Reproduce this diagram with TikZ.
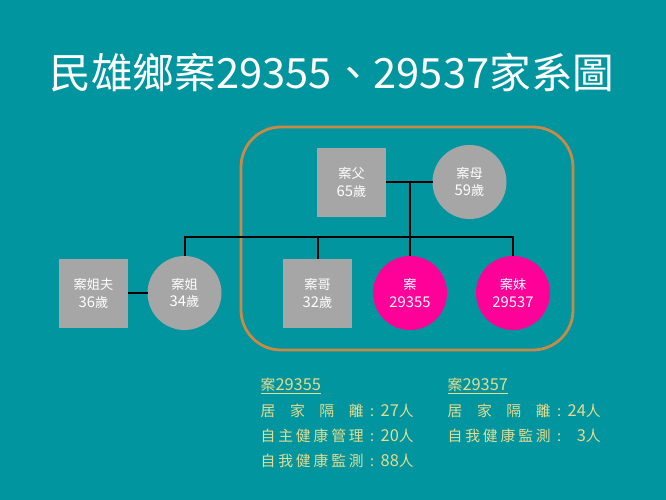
\documentclass[tikz,border=0pt]{standalone}
\usepackage{fontspec}
\setmainfont{Noto Sans CJK TC}
\definecolor{bgc}{HTML}{00959F}
\definecolor{greyc}{HTML}{A6A6A6}
\definecolor{pinkc}{HTML}{FF0099}
\definecolor{orangec}{HTML}{C98A45}
\definecolor{goldc}{HTML}{E6DC8E}
\newcommand{\spread}[1]{\makebox[103pt][s]{#1}}
\newcommand{\pnum}[1]{{\fontsize{14.8}{17.5}\selectfont #1}}
\newcommand{\inum}[1]{{\fontsize{16.4}{17}\selectfont #1}}
\newcommand{\infoval}[2]{#1\makebox[17pt][c]{:}\makebox[33pt][r]{\inum{#2}人}}
\tikzset{
  x=1pt,y=-1pt,
  person/.style={text=white,font=\fontsize{13.2}{17.5}\selectfont,align=center,inner sep=0pt,outer sep=0pt},
  male/.style={person,fill=greyc,minimum width=69pt,minimum height=69pt,shape=rectangle},
  female/.style={person,fill=greyc,minimum size=74pt,shape=circle},
  index/.style={person,fill=pinkc,minimum size=74pt,shape=circle},
  link/.style={draw=black,line width=2pt},
  info/.style={text=goldc,anchor=west,inner sep=0pt,font=\fontsize{14.8}{17}\selectfont},
}
\begin{document}
\begin{tikzpicture}
\path[use as bounding box,fill=bgc] (0,0) rectangle (666,500);
\node[text=white,inner sep=0pt,font=\fontsize{41.7}{44}\selectfont] (title) at (332,73) {民雄鄉案29355、29537家系圖};
\node[draw=orangec,line width=2.8pt,rounded corners=40pt,minimum width=332pt,minimum height=223pt,inner sep=0pt] (household) at (407,238.5) {};
\node[male] (father) at (351.5,182.5) {案父\\\pnum{65}歲};
\node[female] (mother) at (469.5,182) {案母\\\pnum{59}歲};
\node[male] (husband) at (93.5,293.5) {案姐夫\\\pnum{36}歲};
\node[female] (sister) at (184.5,293) {案姐\\\pnum{34}歲};
\node[male] (brother) at (317.5,293.5) {案哥\\\pnum{32}歲};
\node[index] (case) at (410,293) {案\\\pnum{29355}};
\node[index] (younger) at (513,293) {案妹\\\pnum{29537}};
\coordinate (drop) at (410,182);
\coordinate (bar) at (410,237);
\draw[link] (father.east |- drop) -- (mother.west |- drop);
\draw[link] (drop) -- (case.north);
\draw[link] (sister.north) |- (bar) -| (younger.north);
\draw[link] (brother.north) -- (brother.north |- bar);
\draw[link] (husband.east |- sister) -- (sister.west);
\node[info] (h1) at (260.5,386) {\underline{案\inum{29355}}};
\node[info] (a1) at (260.5,411) {\infoval{\spread{居\hfill 家\hfill 隔\hfill 離}}{27}};
\node[info] (a2) at (260.5,436) {\infoval{\spread{自\hfill 主\hfill 健\hfill 康\hfill 管\hfill 理}}{20}};
\node[info] (a3) at (260.5,461) {\infoval{\spread{自\hfill 我\hfill 健\hfill 康\hfill 監\hfill 測}}{88}};
\node[info] (h2) at (447.5,386) {\underline{案\inum{29357}}};
\node[info] (b1) at (447.5,411) {\infoval{\spread{居\hfill 家\hfill 隔\hfill 離}}{24}};
\node[info] (b2) at (447.5,436) {\infoval{\spread{自\hfill 我\hfill 健\hfill 康\hfill 監\hfill 測}}{3}};
\end{tikzpicture}
\end{document}
